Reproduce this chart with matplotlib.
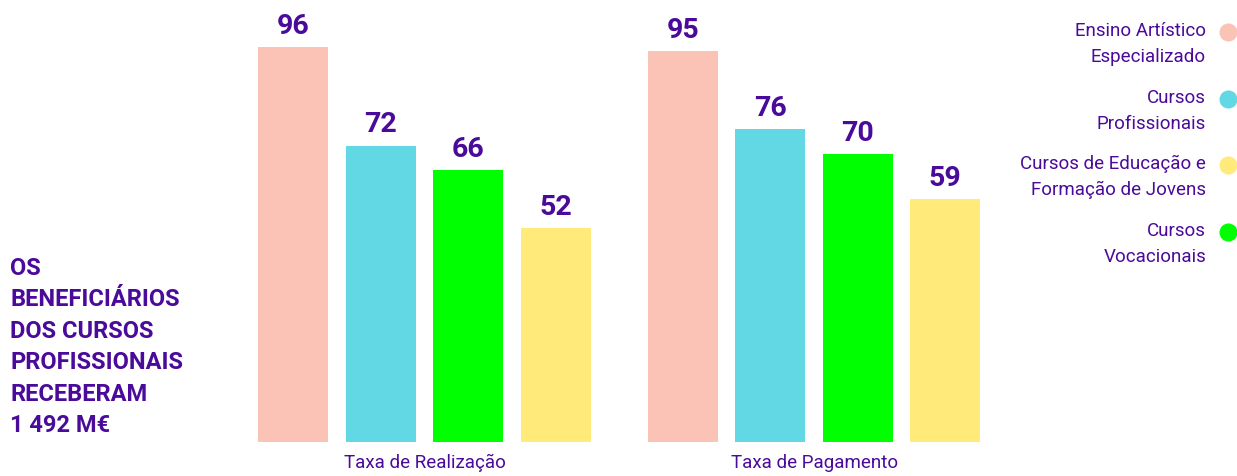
import matplotlib
matplotlib.use("Agg")
import matplotlib.pyplot as plt
from matplotlib.lines import Line2D

plt.rcParams['font.family'] = ['Roboto', 'DejaVu Sans']

groups = ["Taxa de Realização", "Taxa de Pagamento"]
series = ["Ensino Artístico\nEspecializado", "Cursos\nProfissionais",
          "Cursos Vocacionais", "Cursos de Educação e\nFormação de Jovens"]
colors = ["#FAC3B5", "#62D8E5", "#00FF00", "#FFEA7A"]
values = [
    [96, 95],   # Ensino Artístico Especializado
    [72, 76],   # Cursos Profissionais
    [66, 70],   # Cursos Vocacionais
    [52, 59],   # Cursos de Educação e Formação de Jovens
]
legend_labels = ["Ensino Artístico\nEspecializado", "Cursos\nProfissionais",
                 "Cursos de Educação e\nFormação de Jovens", "Cursos\nVocacionais"]
legend_colors = ["#FAC3B5", "#62D8E5", "#FFEA7A", "#00FF00"]
side_text = "OS\nBENEFICIÁRIOS\nDOS CURSOS\nPROFISSIONAIS\nRECEBERAM\n1 492 M€"

purple = "#4A0A9A"

W, H = 1237, 477
fig = plt.figure(figsize=(W / 100, H / 100), dpi=100)
fig.patch.set_facecolor("white")

base_px = 443
top_px = 443 - 395 * 100 / 96
ax = fig.add_axes([0, (H - base_px) / H, 1, (base_px - top_px) / H])
step = 87.5
x0 = 293.5
ax.set_xlim(-x0 / step, (W - x0) / step)
ax.set_ylim(0, 100)

group_gap = 4.45
for i, (vals, c) in enumerate(zip(values, colors)):
    xs = [g * group_gap + i for g in range(len(groups))]
    bars = ax.bar(xs, vals, width=0.8, color=c, linewidth=0)
    for b, v in zip(bars, vals):
        ax.annotate(f"{v}", (b.get_x() + b.get_width() / 2, v),
                    xytext=(0, 6), textcoords="offset points",
                    ha="center", va="bottom", fontsize=20.5,
                    fontweight="bold", color=purple)

ax.set_xticks([g * group_gap + 1.5 for g in range(len(groups))])
ax.set_xticklabels(groups, fontsize=13.5, color=purple)
ax.tick_params(axis="x", length=0, pad=8)
ax.set_yticks([])
for s in ax.spines.values():
    s.set_visible(False)

# side text
fig.text(10 / W, 1 - 257 / H, side_text, ha="left", va="top",
         fontsize=17, fontweight="bold", color=purple, linespacing=1.47)

# legend
ytops = [33, 100, 166, 233]
for lab, c, yc in zip(legend_labels, legend_colors, ytops):
    fig.text(1206 / W, 1 - (yc - 11) / H, lab, ha="right", va="top",
             fontsize=13.5, color=purple, linespacing=1.55,
             multialignment="right")
    fig.add_artist(Line2D([1228 / W], [1 - yc / H], marker="o",
                          markersize=12, color=c, linestyle="none",
                          transform=fig.transFigure))

fig.savefig("out.png", dpi=100)
